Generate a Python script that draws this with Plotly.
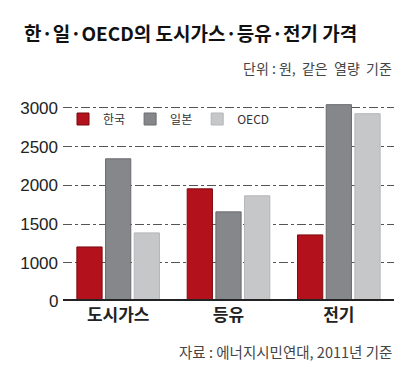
import plotly.graph_objects as go

categories = ["도시가스", "등유", "전기"]
series_names = ["한국", "일본", "OECD"]
korea = [1206, 1955, 1361]
japan = [2342, 1658, 3040]
oecd = [1387, 1865, 2923]
tick_values = [1000, 1500, 2000, 2500, 3000]
tick_labels = ["1000", "1500", "2000", "2500", "3000"]

colors = ["#b3111b", "#85878a", "#c6c7c9"]
edge = ["#7d0a10", "#6a6c6f", "#b5b6b8"]
OFF = 8  # default page body margin
W, H = 408 - OFF, 381 - OFF
ml, mr, mt, mb = 54 - OFF, 14, 100 - OFF, 82
pw, ph = W - ml - mr, H - mt - mb

def px(x):
    return (x - OFF - ml) / pw

def py(y):
    return (H - mb - (y - OFF)) / ph

FONT = "Noto Sans CJK KR"
fig = go.Figure()
for name, vals, c, e in zip(series_names, [korea, japan, oecd], colors, edge):
    fig.add_trace(go.Bar(x=categories, y=vals, name=name,
                         marker=dict(color=c, line=dict(color=e, width=1))))

fig.update_layout(
    width=W, height=H,
    margin=dict(l=ml, r=mr, t=mt, b=mb),
    paper_bgcolor="white", plot_bgcolor="white",
    barmode="group", bargap=0.22, bargroupgap=0.12,
    font=dict(family=FONT, color="#222"),
    showlegend=True,
    legend=dict(orientation="h", x=0.0, y=py(119), xanchor="left", yanchor="middle",
                font=dict(size=12, color="#333", family=FONT), itemwidth=30,
                bgcolor="rgba(255,255,255,0)", traceorder="normal"),
    xaxis=dict(showline=True, linecolor="#222", linewidth=2, ticks="",
               tickfont=dict(size=17, color="#222", family=FONT, weight="bold"),
               showgrid=False, fixedrange=True),
    yaxis=dict(range=[535, 3100], tickvals=tick_values, ticktext=tick_labels,
               showgrid=True, gridcolor="#555", griddash="dashdot", gridwidth=1,
               tickfont=dict(size=17, color="#222", family="Liberation Sans"),
               zeroline=False, showline=False, ticks="", ticklabelstandoff=4),
    annotations=[
        dict(text="<b>한·일·OECD의 도시가스·등유·전기 가격</b>", xref="paper", yref="paper",
             x=px(12), y=py(32), xanchor="left", yanchor="middle", showarrow=False,
             font=dict(size=19, color="#111", family=FONT)),
        dict(text="단위 : 원,  같은  열량  기준", xref="paper", yref="paper",
             x=px(394), y=py(68), xanchor="right", yanchor="middle", showarrow=False,
             font=dict(size=14, color="#444", family=FONT)),
        dict(text="자료 : 에너지시민연대, 2011년 기준", xref="paper", yref="paper",
             x=px(394), y=py(351), xanchor="right", yanchor="middle", showarrow=False,
             font=dict(size=14.5, color="#444", family=FONT)),
        dict(text="0", xref="paper", yref="paper",
             x=px(51), y=py(301), xanchor="right", yanchor="middle", showarrow=False,
             font=dict(size=17, color="#222", family="Liberation Sans")),
    ],
)

fig.write_html("out.html")
